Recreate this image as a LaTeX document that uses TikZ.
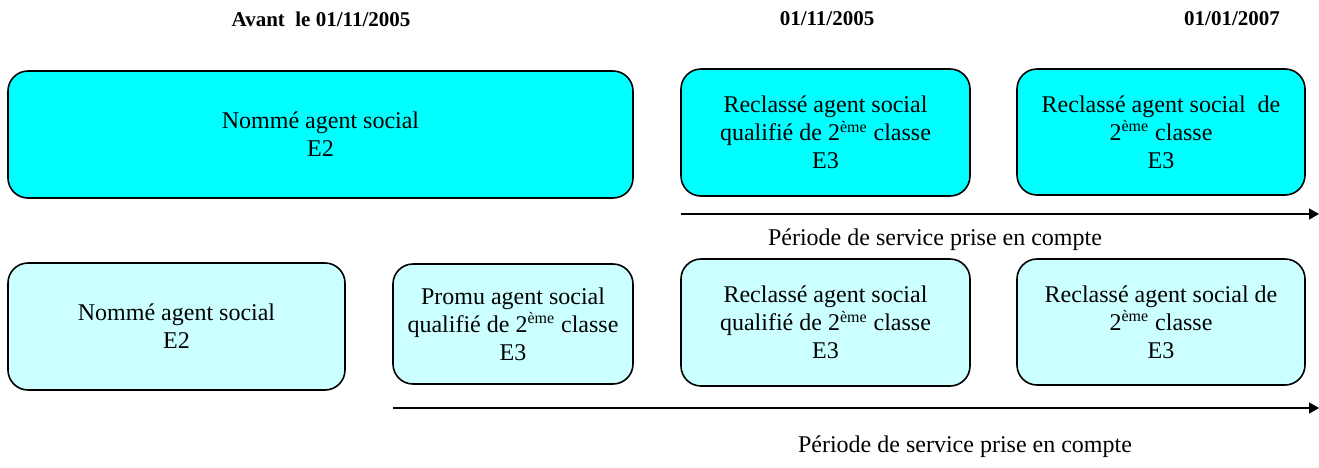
\documentclass[tikz,border=0pt]{standalone}
\usepackage{fontspec}
\setmainfont{Liberation Serif}
\newfontfamily\tnrfont{Liberation Serif}
\usetikzlibrary{arrows.meta}
\definecolor{cyanA}{HTML}{00FFFF}
\definecolor{cyanB}{HTML}{CCFFFF}
\tikzset{
  boxbase/.style={draw=black, line width=0.8pt, rounded corners=10pt, align=center,
    font=\tnrfont\fontsize{12}{14}\selectfont, inner sep=0pt},
  topbox/.style={boxbase, fill=cyanA},
  botbox/.style={boxbase, fill=cyanB},
  hdr/.style={font=\tnrfont\fontsize{10.5}{12}\selectfont\bfseries, inner sep=0pt},
  lbl/.style={font=\tnrfont\fontsize{12}{14}\selectfont, inner sep=0pt},
  timeline/.style={line width=0.8pt, -{Triangle[length=5pt,width=5.5pt]}}
}
\begin{document}
\begin{tikzpicture}[x=0.5pt,y=-0.5pt]
\useasboundingbox (0,0) rectangle (1319,467);
% headings
\node[hdr] (h1) at (321,19) {Avant\ \ le 01/11/2005};
\node[hdr] (h2) at (827,19) {01/11/2005};
\node[hdr] (h3) at (1232,19) {01/01/2007};
% top row
\node[topbox, minimum width=312.5pt, minimum height=63.5pt] (A) at (320.5,134.5) {Nommé agent social\\E2};
\node[topbox, minimum width=144.5pt, minimum height=63.5pt] (B) at (825.5,132.5) {Reclassé agent social\\qualifié de 2\textsuperscript{ème} classe\\E3};
\node[topbox, minimum width=144pt, minimum height=63pt] (C) at (1161,132) {Reclassé agent social\ \ de\\2\textsuperscript{ème} classe\\E3};
% top timeline
\coordinate (t1s) at (681,214);
\coordinate (t1e) at (1319,214);
\draw[timeline] (t1s) -- (t1e);
\node[lbl] (L1) at (935,240) {Période de service prise en compte};
% bottom row
\node[botbox, minimum width=168.5pt, minimum height=63.5pt] (D) at (176.5,326.5) {Nommé agent social\\E2};
\node[botbox, minimum width=120pt, minimum height=60pt] (E) at (513,324) {Promu agent social\\qualifié de 2\textsuperscript{ème} classe\\E3};
\node[botbox, minimum width=144.5pt, minimum height=63.5pt] (F) at (825.5,322.5) {Reclassé agent social\\qualifié de 2\textsuperscript{ème} classe\\E3};
\node[botbox, minimum width=144pt, minimum height=63pt] (G) at (1161,322) {Reclassé agent social de\\2\textsuperscript{ème} classe\\E3};
% bottom timeline
\coordinate (t2s) at (393,408);
\coordinate (t2e) at (1319,408);
\draw[timeline] (t2s) -- (t2e);
\node[lbl] (L2) at (965,447) {Période de service prise en compte};
\end{tikzpicture}
\end{document}
